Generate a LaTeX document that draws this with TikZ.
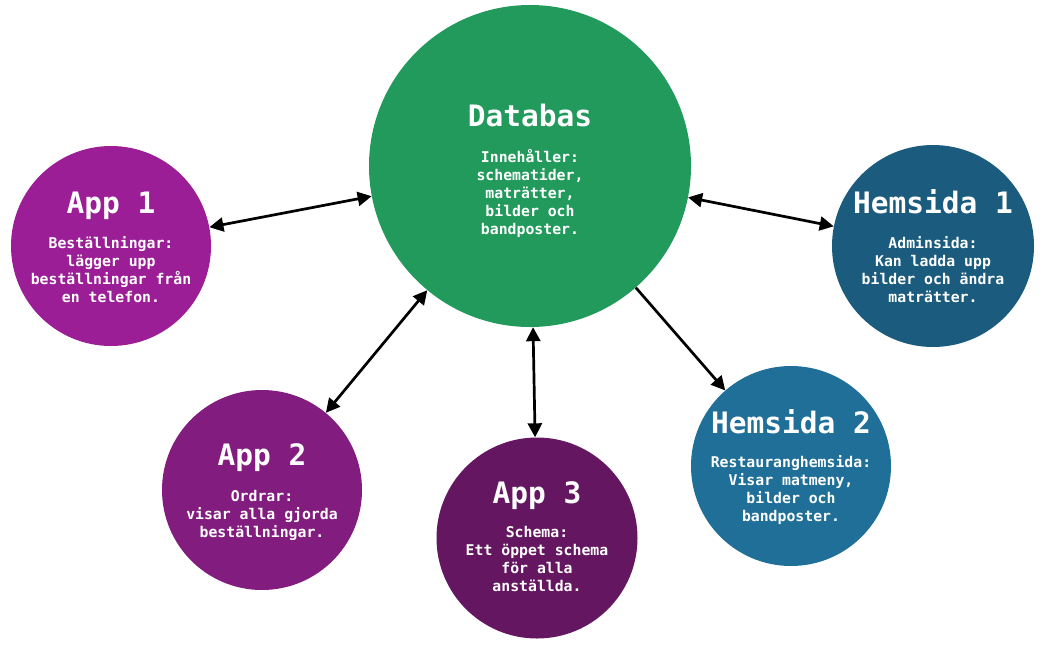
\documentclass[tikz,border=0pt]{standalone}
\usepackage{fontspec}
\setmonofont{DejaVu Sans Mono}
\usetikzlibrary{arrows.meta}
\definecolor{cApp1}{RGB}{155,30,150}
\definecolor{cApp2}{RGB}{130,28,126}
\definecolor{cApp3}{RGB}{101,22,97}
\definecolor{cDb}{RGB}{33,154,92}
\definecolor{cHem1}{RGB}{27,92,126}
\definecolor{cHem2}{RGB}{31,111,152}
\tikzset{
  bubble/.style={circle,inner sep=0pt,draw=none},
  title/.style={anchor=base,inner sep=0pt,text=white,font=\ttfamily\bfseries\fontsize{29.5}{32}\selectfont},
  body/.style={anchor=base,inner sep=0pt,text=white,align=center,font=\ttfamily\bfseries\fontsize{14.8}{18}\selectfont},
  link/.style={line width=2.7pt,{Triangle[length=14pt,width=14pt]}-{Triangle[length=14pt,width=14pt]}},
  onelink/.style={line width=2.7pt,-{Triangle[length=14pt,width=14pt]}}
}
\begin{document}
\begin{tikzpicture}[x=1pt,y=-1pt]
\useasboundingbox (0,0) rectangle (1044,649);
\node[bubble,fill=cDb,minimum size=322pt] (db) at (530,166) {};
\node[bubble,fill=cApp1,minimum size=200pt] (app1) at (111,246) {};
\node[bubble,fill=cHem1,minimum size=202pt] (hem1) at (933,246) {};
\node[bubble,fill=cHem2,minimum size=200pt] (hem2) at (791,466) {};
\node[bubble,fill=cApp2,minimum size=200pt] (app2) at (262,490) {};
\node[bubble,fill=cApp3,minimum size=201pt] (app3) at (537,538) {};

\node[title] (dbt) at (530,126) {Databas};
\node[body] (dbb) at (530,234) {Innehåller:\\schematider,\\maträtter,\\bilder och\\bandposter.};
\node[title] (app1t) at (111,213) {App 1};
\node[body] (app1b) at (111,302) {Beställningar:\\lägger upp\\beställningar från\\en telefon.};
\node[title] (hem1t) at (933,213) {Hemsida 1};
\node[body] (hem1b) at (933,302) {Adminsida:\\Kan ladda upp\\bilder och ändra\\maträtter.};
\node[title] (hem2t) at (791,433) {Hemsida 2};
\node[body] (hem2b) at (791,521) {Restauranghemsida:\\Visar matmeny,\\bilder och\\bandposter.};
\node[title] (app2t) at (262,465) {App 2};
\node[body] (app2b) at (262,537) {Ordrar:\\visar alla gjorda\\beställningar.};
\node[title] (app3t) at (537,503) {App 3};
\node[body] (app3b) at (537,591) {Schema:\\Ett öppet schema\\för alla\\anställda.};

\draw[link] (app1) -- (db);
\draw[link] (db) -- (hem1);
\draw[onelink] (db) -- (hem2);
\draw[link] (app2) -- (db);
\draw[link] (app3) -- (db);
\end{tikzpicture}
\end{document}
